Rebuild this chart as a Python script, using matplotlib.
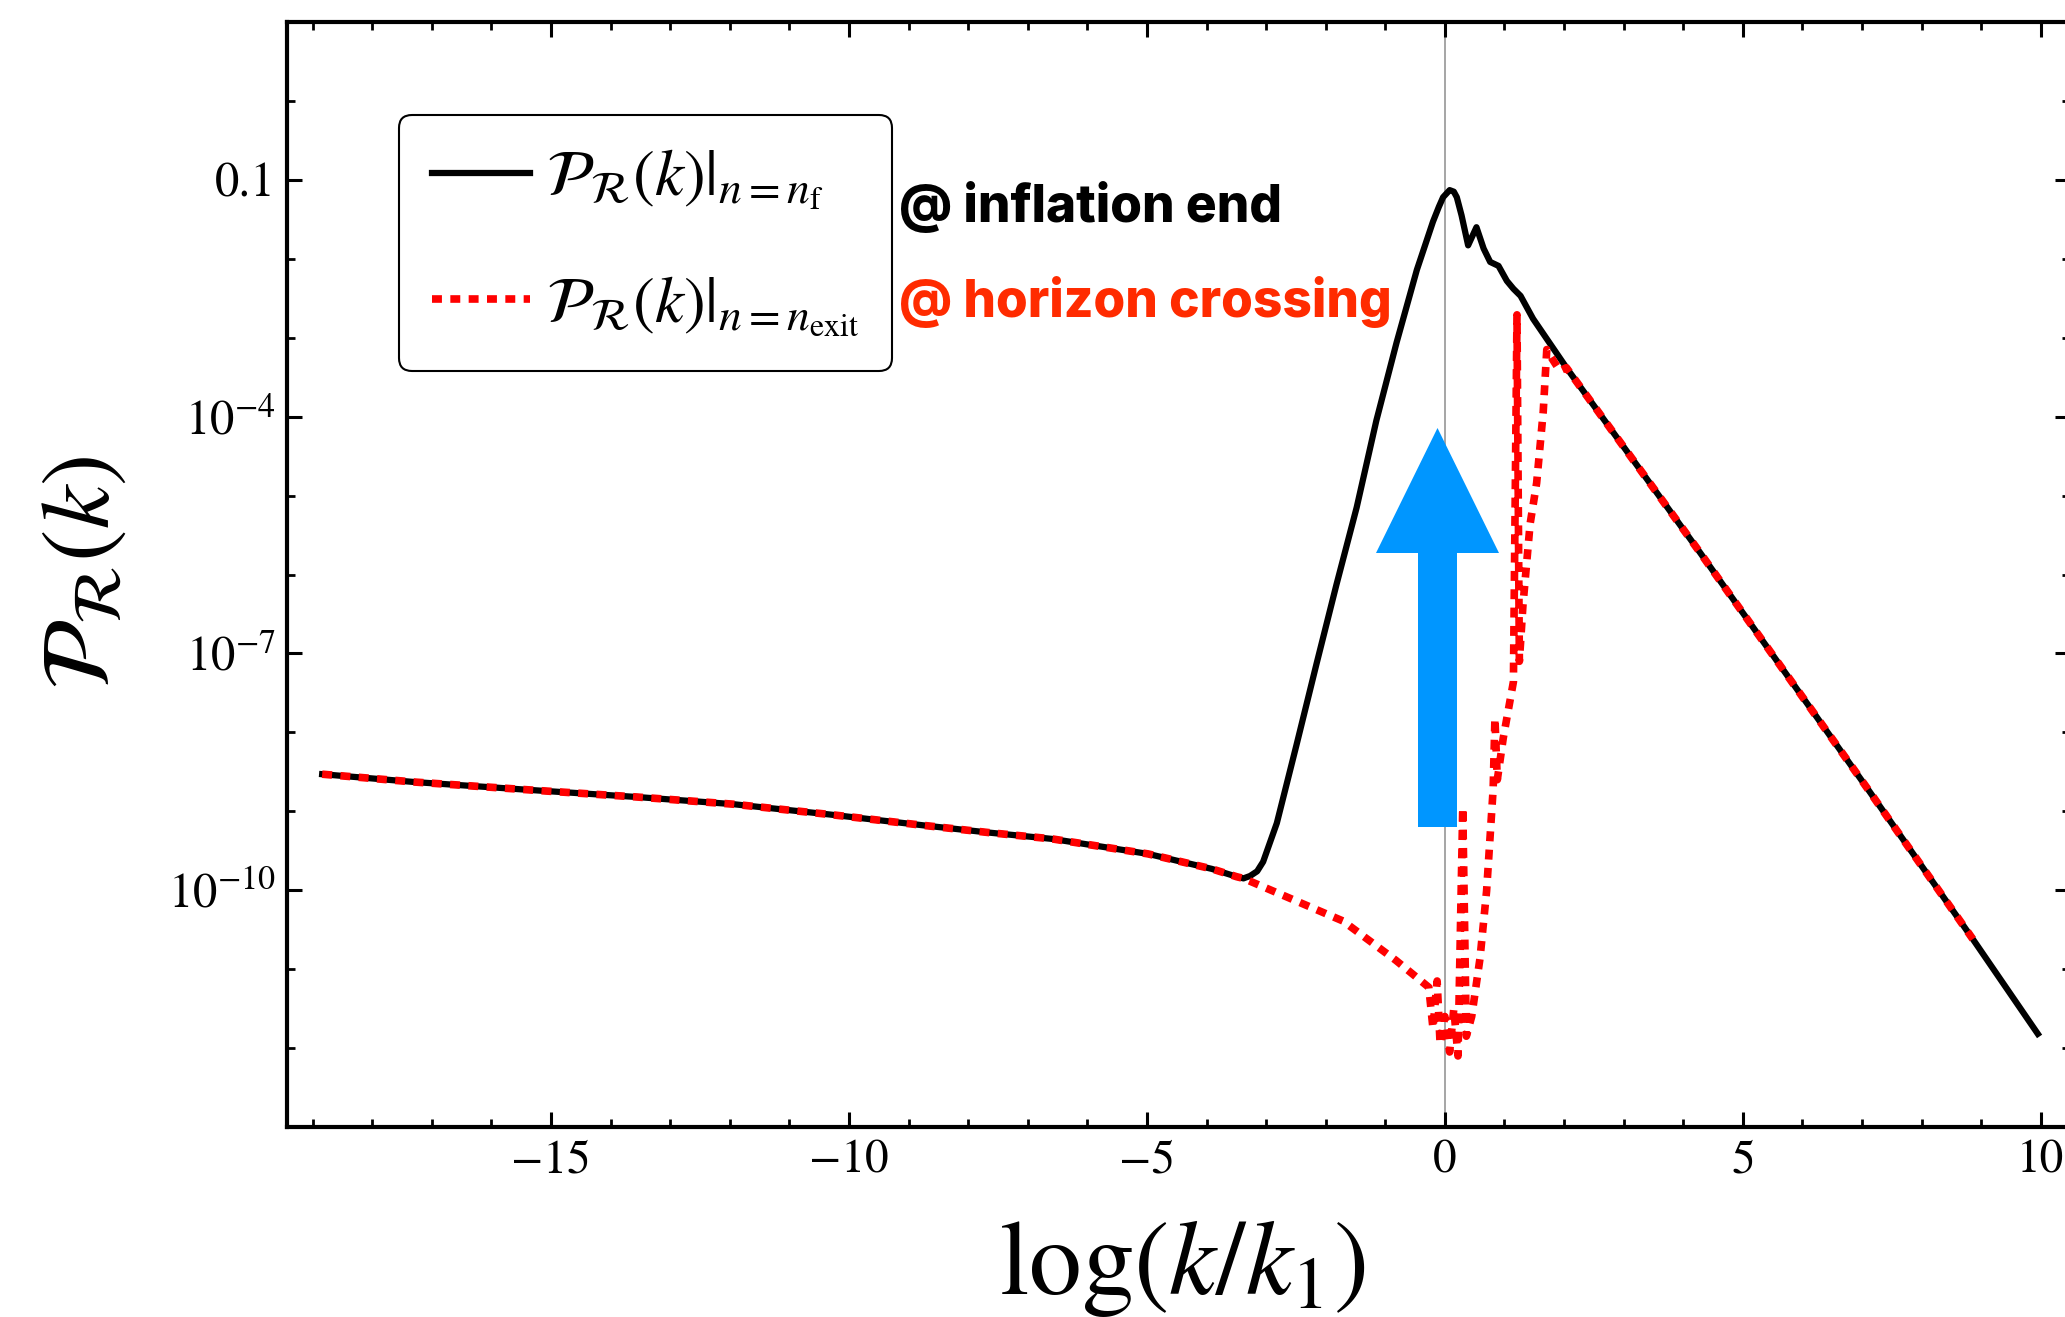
import matplotlib
matplotlib.use("Agg")
import matplotlib.pyplot as plt
import numpy as np
from matplotlib.patches import FancyArrow
from matplotlib.transforms import Affine2D
from matplotlib.ticker import FixedLocator, MultipleLocator, NullFormatter

plt.rcParams["mathtext.fontset"] = "stix"
plt.rcParams["font.family"] = "STIXGeneral"

# shared large-scale part (log(k/k1), log10 P)
flat_x = [-18.84, -17.28, -15.15, -13.54, -11.94, -10.33, -8.73, -7.65, -6.59, -4.98, -3.91, -3.49]
flat_log = [-8.53, -8.63, -8.74, -8.82, -8.91, -9.04, -9.18, -9.27, -9.35, -9.54, -9.73, -9.83]

# spectrum at the end of inflation
end_x = flat_x + [-3.38, -3.27, -3.15, -3.05, -2.82, -2.49, -2.15, -1.82, -1.48, -1.15, -0.81, -0.47,
                  -0.20, -0.10, -0.03, 0.08, 0.15, 0.20, 0.28, 0.39, 0.53, 0.65, 0.76, 0.90, 1.04, 1.15,
                  1.27, 1.48, 2.04, 4.28, 7.08, 8.86, 9.95]
end_log = flat_log + [-9.85, -9.82, -9.76, -9.64, -9.15, -8.16, -7.12, -6.13, -5.15, -4.05, -3.06, -2.14,
                      -1.53, -1.34, -1.22, -1.13, -1.15, -1.22, -1.45, -1.83, -1.60, -1.87, -2.04, -2.09,
                      -2.28, -2.38, -2.47, -2.76, -3.38, -5.72, -8.70, -10.62, -11.82]

# spectrum evaluated at horizon exit
exit_x = flat_x + [-3.38, -1.71, -0.82, -0.27, -0.20, -0.13, -0.08, 0.00, 0.08, 0.15, 0.22,
                   0.30, 0.36, 0.45, 0.59, 0.70, 0.81, 0.84, 0.88, 0.98, 1.15, 1.21, 1.25,
                   1.31, 1.43, 1.54, 1.65, 1.71, 1.76, 1.93, 2.04, 4.28, 7.08, 8.86]
exit_log = flat_log + [-9.85, -10.39, -10.89, -11.23, -11.75, -11.15, -11.95, -11.60, -12.05, -11.50, -12.10,
                       -8.95, -11.85, -11.60, -10.86, -10.01, -8.72, -7.82, -8.60, -8.07, -7.36, -2.71, -7.10,
                       -6.39, -5.36, -4.84, -3.94, -3.15, -3.22, -3.42, -3.38, -5.72, -8.70, -10.62]

ytick_vals = [1e-1, 1e-4, 1e-7, 1e-10]
ytick_labels = ["0.1", r"$10^{-4}$", r"$10^{-7}$", r"$10^{-10}$"]
xtick_vals = [-15, -10, -5, 0, 5, 10]
xtick_labels = ["\u221215", "\u221210", "\u22125", "0", "5", "10"]

W, H = 2065, 1317
fig = plt.figure(figsize=(W / 100, H / 100), dpi=100)
ax = fig.add_axes([287 / W, (H - 1127) / H, (2070 - 287) / W, (1127 - 22) / H])

ax.axvline(0, color="0.62", lw=1.3, zorder=1)
ax.plot(end_x, 10 ** np.array(end_log), color="black", lw=4.5,
        solid_joinstyle="round", zorder=3,
        label=r"$\mathcal{P}_{\mathcal{R}}(k)|_{n=n_{\mathrm{f}}}$")
ax.plot(exit_x, 10 ** np.array(exit_log), color="red", lw=5.5,
        linestyle=(0, (1.3, 1.1)), dash_capstyle="butt", zorder=4,
        label=r"$\mathcal{P}_{\mathcal{R}}(k)|_{n=n_{\mathrm{exit}}}$")

ax.set_yscale("log")
ax.set_xlim(-19.43, 10.49)
ax.set_ylim(1e-13, 10)

ax.xaxis.set_major_locator(FixedLocator(xtick_vals))
ax.set_xticklabels(xtick_labels)
ax.xaxis.set_minor_locator(MultipleLocator(1))
ax.yaxis.set_major_locator(FixedLocator(ytick_vals))
ax.set_yticklabels(ytick_labels)
ax.yaxis.set_minor_locator(FixedLocator([10.0 ** p for p in range(-13, 2)]))
ax.yaxis.set_minor_formatter(NullFormatter())

for s in ax.spines.values():
    s.set_linewidth(3)
ax.tick_params(which="both", direction="in", top=True, right=True)
ax.tick_params(which="major", length=11, width=2.2)
ax.tick_params(which="minor", length=6, width=2)
ax.tick_params(axis="x", which="major", labelsize=34, pad=9)
ax.tick_params(axis="y", which="major", labelsize=35, pad=8)

ax.set_xlabel(r"$\log(k/k_1)$", fontsize=76)
ax.xaxis.set_label_coords(0.502, -0.082)
ax.set_ylabel(r"$\mathcal{P}_{\mathcal{R}}(k)$", fontsize=70)
ax.yaxis.set_label_coords(-0.113, 0.501)
ax.yaxis.label.set_verticalalignment("center")

leg = ax.legend(loc="upper left", bbox_to_anchor=((399 - 287) / 1783, (1127 - 115) / 1105),
                borderaxespad=0, fontsize=47, handlelength=1.5, handletextpad=0.25,
                labelspacing=0.95, borderpad=0.5, fancybox=True, framealpha=1)
leg.get_frame().set_edgecolor("black")
leg.get_frame().set_linewidth(1.5)

fig.text(899 / W, 1 - 222 / H, "@ inflation end", fontsize=37, fontweight=800,
         family=["Inter", "DejaVu Sans"], color="black", va="baseline")
fig.text(899 / W, 1 - 317 / H, "@ horizon crossing", fontsize=37, fontweight=800,
         family=["Inter", "DejaVu Sans"], color="#ff2b00", va="baseline")

# upward arrow marking the growth after horizon exit (figure pixel coordinates)
px = Affine2D().scale(1 / W, 1 / H) + fig.transFigure
fig.patches.append(FancyArrow(1437.5, H - 827, 0, 399, width=39, head_width=123,
                              head_length=125, length_includes_head=True,
                              color="#0096ff", lw=0, transform=px, zorder=5))

fig.savefig("out.png", dpi=100)
